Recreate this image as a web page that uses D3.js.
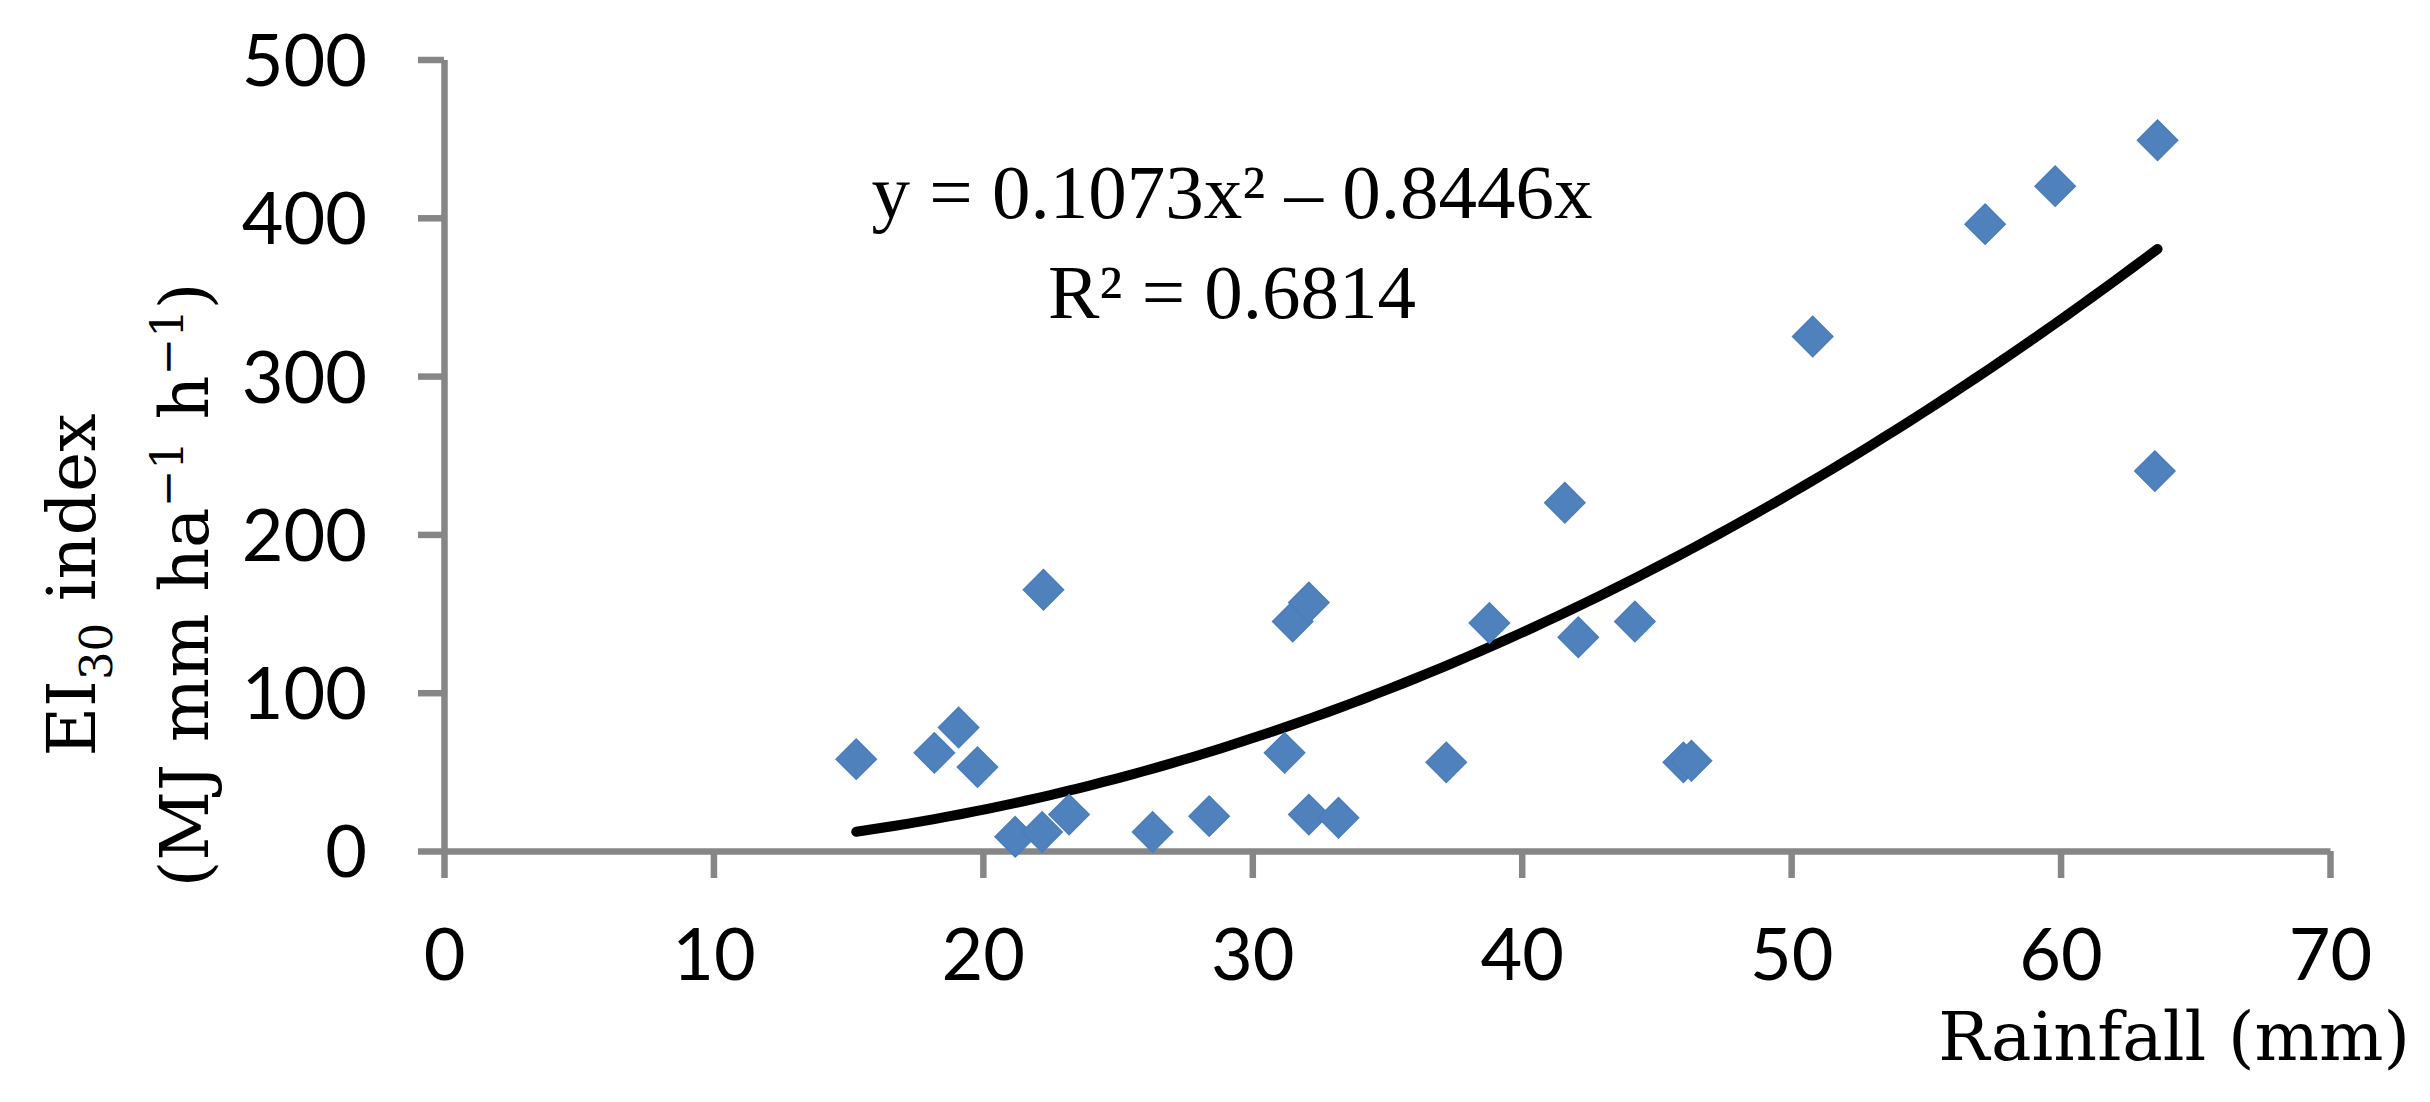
<html>
<head>
<title>EI30 vs rainfall</title>
<style>
body { margin: 0; background: white; }
#plot { display: block; }
.axis path, .axis line {
  stroke: #868686;
  stroke-width: 6.5;
}
.axis text {
  font-family: Lato, sans-serif;
  font-size: 72px;
  fill: black;
}
.trend {
  fill: none;
  stroke: black;
  stroke-width: 10;
  stroke-linecap: round;
}
.point {
  fill: #4f81bd;
  stroke: #4a7ebb;
  stroke-width: 1.5;
}
.eq text {
  font-family: "Liberation Serif", serif;
  font-size: 77px;
}
.title {
  font-family: "DejaVu Serif", serif;
  font-size: 68px;
}
</style>
</head>
<body>
<svg id='plot' width='2430' height='1102'></svg>

<script src='https://cdn.jsdelivr.net/npm/d3@7'></script>
<script>
// Rainfall (mm) and EI30 index, one entry per event.
const rainfall = [15.3, 18.2, 19.1, 19.8, 21.2, 22.2, 22.25, 23.2, 26.3, 28.4,
                  31.2, 31.5, 32.1, 32.1, 33.2, 37.2, 38.8, 41.6, 42.1, 44.2,
                  46.0, 46.3, 50.8, 57.2, 59.8, 63.6, 63.5];
const ei30 = [58, 62, 78, 53, 9, 12, 165, 23, 12, 22,
              62, 145, 157, 23, 21, 56, 144, 220, 135, 145,
              56, 57, 325, 396, 420, 449, 240];

const xTicks = [0, 10, 20, 30, 40, 50, 60, 70];
const yTicks = [0, 100, 200, 300, 400, 500];

// Trend line as printed on the chart: y = a*x^2 + b*x
const trendA = 0.1073;
const trendB = -0.8446;
const eqLabel = 'y = 0.1073x\u00b2 \u2013 0.8446x';
const r2Label = 'R\u00b2 = 0.6814';

const svg = d3.select('#plot');

const x = d3.scaleLinear().domain([0, 70]).range([444, 2330]);
const y = d3.scaleLinear().domain([0, 500]).range([851, 59.5]);

// axes
svg.append('g')
  .attr('class', 'axis')
  .attr('transform', `translate(0, ${y(0)})`)
  .call(d3.axisBottom(x).tickValues(xTicks).tickSizeInner(27).tickSizeOuter(0).tickPadding(51));

svg.append('g')
  .attr('class', 'axis')
  .attr('transform', `translate(${x(0)}, 0)`)
  .call(d3.axisLeft(y).tickValues(yTicks).tickSizeInner(26).tickSizeOuter(0).tickPadding(51))
  .selectAll('text').attr('dy', '0.36em');

// trend curve over the range of the data
const xMin = d3.min(rainfall), xMax = d3.max(rainfall);
const curveX = d3.range(0, 101).map(i => xMin + (xMax - xMin) * i / 100);
const line = d3.line()
  .x(d => x(d))
  .y(d => y(trendA * d * d + trendB * d));

svg.append('path')
  .datum(curveX)
  .attr('class', 'trend')
  .attr('d', line);

// points (diamond = square turned 45 degrees)
const diamond = d3.symbol().type(d3.symbolSquare).size(810);
svg.append('g')
  .selectAll('path')
  .data(rainfall.map((r, i) => [r, ei30[i]]))
  .join('path')
  .attr('class', 'point')
  .attr('d', diamond)
  .attr('transform', d => `translate(${x(d[0])}, ${y(d[1])}) rotate(45)`);

// equation
const eq = svg.append('g').attr('class', 'eq');
eq.append('text').attr('x', 1232).attr('y', 218).attr('text-anchor', 'middle').text(eqLabel);
eq.append('text').attr('x', 1232).attr('y', 318).attr('text-anchor', 'middle').text(r2Label);

// x title
svg.append('text')
  .attr('class', 'title')
  .attr('x', 2410)
  .attr('y', 1060)
  .attr('text-anchor', 'end')
  .text('Rainfall (mm)');

// y title, two lines
const t1 = svg.append('text')
  .attr('class', 'title')
  .attr('transform', 'translate(95, 585) rotate(-90)')
  .attr('text-anchor', 'middle');
t1.append('tspan').text('EI');
t1.append('tspan').attr('font-size', '45px').attr('dy', 17).text('30');
t1.append('tspan').attr('dy', -17).text(' index');

const t2 = svg.append('text')
  .attr('class', 'title')
  .attr('transform', 'translate(208, 585) rotate(-90)')
  .attr('text-anchor', 'middle');
t2.append('tspan').text('(MJ mm ha');
t2.append('tspan').attr('font-size', '45px').attr('dy', -25).text('\u22121');
t2.append('tspan').attr('dy', 25).text(' h');
t2.append('tspan').attr('font-size', '45px').attr('dy', -25).text('\u22121');
t2.append('tspan').attr('dy', 25).text(')');
</script>
</body>
</html>
